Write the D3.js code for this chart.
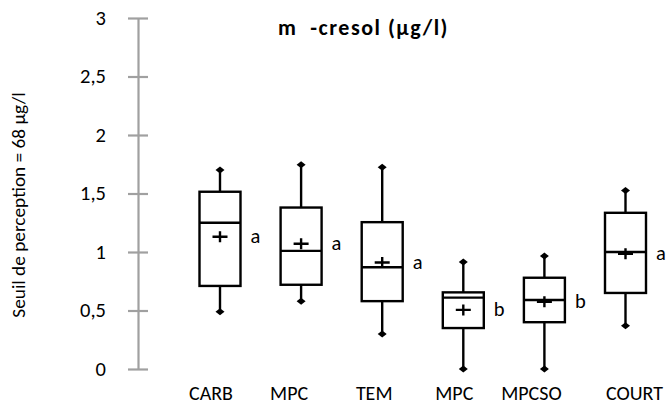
<!DOCTYPE html>
<html>
<head>
<meta charset="utf-8">
<script src="https://cdn.jsdelivr.net/npm/d3@7"></script>
<style>
  html, body { margin: 0; padding: 0; background: #fff; }
  text { font-family: Carlito, "Open Sans", "Liberation Sans", sans-serif; }
</style>
</head>
<body>
<div id="chart"></div>
<script>
const categories = ["CARB", "MPC", "TEM", "MPC", "MPCSO", "COURT"];
const minValues = [0.49, 0.58, 0.30, 0.00, 0.00, 0.37];
const q1Values = [0.71, 0.72, 0.58, 0.35, 0.40, 0.65];
const medianValues = [1.25, 1.01, 0.87, 0.61, 0.59, 1.00];
const q3Values = [1.515, 1.38, 1.255, 0.655, 0.78, 1.335];
const maxValues = [1.70, 1.745, 1.725, 0.915, 0.965, 1.525];
const meanValues = [1.13, 1.07, 0.91, 0.505, 0.575, 0.985];
const groupLetters = ["a", "a", "a", "b", "b", "a"];
const yTicks = [0, 0.5, 1, 1.5, 2, 2.5, 3];
const yTickLabels = ["0", "0,5", "1", "1,5", "2", "2,5", "3"];
const titleText = "m  -cresol (µg/l)";
const yAxisTitle = "Seuil de perception = 68 µg/l";

const W = 667, H = 407;
const svg = d3.select("#chart").append("svg")
  .attr("width", W).attr("height", H)
  .style("background", "#fff");

const y = d3.scaleLinear().domain([0, 3]).range([369, 18]);
const idx = categories.map((d, i) => i);
const x = d3.scalePoint().domain(idx).range([220, 625.5]);
const boxW = 41;

// Y axis
const axisX = 138;
const yAxis = d3.axisLeft(y).tickValues(yTicks).tickSize(0).tickFormat((d, i) => yTickLabels[i]);
const gAxis = svg.append("g").attr("transform", `translate(${axisX},0)`).call(yAxis);
gAxis.select(".domain").attr("stroke", "#a0a0a0").attr("stroke-width", 2.2);
gAxis.selectAll(".tick line").remove();
gAxis.selectAll(".tick").append("line")
  .attr("x1", -10).attr("x2", 10)
  .attr("stroke", "#a0a0a0").attr("stroke-width", 2.2);
gAxis.selectAll(".tick text")
  .attr("x", -32).attr("dy", "0.3em")
  .attr("fill", "#000").style("font-size", "20.5px")
  .style("font-family", 'Carlito, "Open Sans", sans-serif');

// Y axis title
svg.append("text")
  .attr("transform", `translate(25,${205}) rotate(-90)`)
  .attr("text-anchor", "middle")
  .style("font-size", "19.3px")
  .text(yAxisTitle);

// Title
svg.append("text")
  .attr("x", 278).attr("y", 35)
  .attr("text-anchor", "start")
  .style("font-size", "22px").style("font-weight", "bold")
  .style("letter-spacing", "1.5px")
  .attr("xml:space", "preserve")
  .text(titleText);

const g = svg.append("g");
const boxes = g.selectAll("g.box").data(idx).join("g").attr("class", "box");
const stroke = "#000", sw = 2.4;

// whiskers
boxes.append("line")
  .attr("x1", i => x(i)).attr("x2", i => x(i))
  .attr("y1", i => y(maxValues[i])).attr("y2", i => y(q3Values[i]))
  .attr("stroke", stroke).attr("stroke-width", sw);
boxes.append("line")
  .attr("x1", i => x(i)).attr("x2", i => x(i))
  .attr("y1", i => y(q1Values[i])).attr("y2", i => y(minValues[i]))
  .attr("stroke", stroke).attr("stroke-width", sw);

// box
boxes.append("rect")
  .attr("x", i => x(i) - boxW / 2)
  .attr("width", boxW)
  .attr("y", i => y(q3Values[i]))
  .attr("height", i => y(q1Values[i]) - y(q3Values[i]))
  .attr("fill", "#fff").attr("stroke", stroke).attr("stroke-width", sw);

// median
boxes.append("line")
  .attr("x1", i => x(i) - boxW / 2).attr("x2", i => x(i) + boxW / 2)
  .attr("y1", i => y(medianValues[i])).attr("y2", i => y(medianValues[i]))
  .attr("stroke", stroke).attr("stroke-width", sw);

// diamonds at whisker ends
const diamond = (cx, cy) => `M${cx},${cy - 3.5}L${cx + 4.5},${cy}L${cx},${cy + 3.5}L${cx - 4.5},${cy}Z`;
boxes.append("path").attr("d", i => diamond(x(i), y(maxValues[i]))).attr("fill", stroke);
boxes.append("path").attr("d", i => diamond(x(i), y(minValues[i]))).attr("fill", stroke);

// mean plus
boxes.append("path")
  .attr("d", i => {
    const cx = x(i), cy = y(meanValues[i]);
    return `M${cx - 7.5},${cy}H${cx + 7.5}M${cx},${cy - 5.5}V${cy + 5.5}`;
  })
  .attr("stroke", stroke).attr("stroke-width", sw).attr("fill", "none");

// group letters
boxes.append("text")
  .attr("x", i => x(i) + boxW / 2 + 10)
  .attr("y", i => y(meanValues[i]))
  .attr("dy", "0.3em")
  .style("font-size", "20.5px")
  .text(i => groupLetters[i]);

// category labels
const labelShift = [-9, -12, -8, -9, -13, 9];
svg.append("g").selectAll("text").data(idx).join("text")
  .attr("x", i => x(i) + labelShift[i])
  .attr("y", 400)
  .attr("text-anchor", "middle")
  .style("font-size", "20px")
  .text(i => categories[i]);
</script>
</body>
</html>
